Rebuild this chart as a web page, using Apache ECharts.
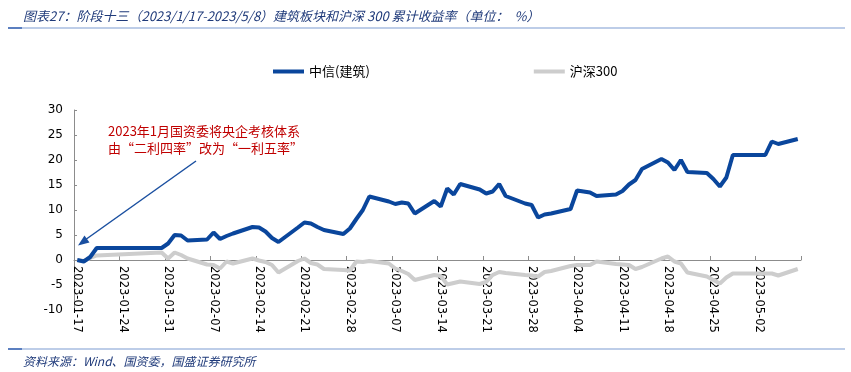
<!DOCTYPE html>
<html>
<head>
<meta charset="utf-8">
<script src="https://cdn.jsdelivr.net/npm/echarts@6/dist/echarts.min.js"></script>
<style>
html,body{margin:0;padding:0;background:#fff;}
#chart{width:851px;height:372px;}
</style>
</head>
<body>
<div id="chart"></div>
<script>
// ---- data ----
var tradeDates = [
  '2023-01-17','2023-01-18','2023-01-19','2023-01-20','2023-01-30','2023-01-31',
  '2023-02-01','2023-02-02','2023-02-03','2023-02-06','2023-02-07','2023-02-08','2023-02-09','2023-02-10',
  '2023-02-13','2023-02-14','2023-02-15','2023-02-16','2023-02-17','2023-02-20','2023-02-21','2023-02-22',
  '2023-02-23','2023-02-24','2023-02-27','2023-02-28',
  '2023-03-01','2023-03-02','2023-03-03','2023-03-06','2023-03-07','2023-03-08','2023-03-09','2023-03-10',
  '2023-03-13','2023-03-14','2023-03-15','2023-03-16','2023-03-17','2023-03-20','2023-03-21','2023-03-22',
  '2023-03-23','2023-03-24','2023-03-27','2023-03-28','2023-03-29','2023-03-30','2023-03-31',
  '2023-04-03','2023-04-04','2023-04-06','2023-04-07','2023-04-10','2023-04-11','2023-04-12','2023-04-13',
  '2023-04-14','2023-04-17','2023-04-18','2023-04-19','2023-04-20','2023-04-21','2023-04-24','2023-04-25',
  '2023-04-26','2023-04-27','2023-04-28','2023-05-03','2023-05-04','2023-05-05','2023-05-08'
];
var citicBuild = [
  0.0,-0.3,0.6,2.4,2.4,3.3,
  5.0,4.9,3.9,4.1,5.5,4.2,4.8,5.3,
  6.6,6.5,5.7,4.4,3.6,6.5,7.5,7.3,
  6.6,6.0,5.2,6.3,
  8.2,10.0,12.7,11.7,11.2,11.5,11.3,9.3,
  11.8,10.7,14.3,13.1,15.2,14.1,13.3,13.7,
  15.2,12.8,11.3,11.0,8.5,9.1,9.3,
  10.2,13.9,13.5,12.8,13.1,13.8,15.1,16.0,
  18.2,20.2,19.5,18.0,20.0,17.6,17.4,16.2,
  14.7,16.5,21.0,21.0,23.7,23.2,24.2
];
var hs300 = [
  0.0,-0.2,0.4,0.9,1.5,0.3,
  1.5,1.0,0.3,-0.9,-1.0,-1.7,-0.3,-0.7,
  0.3,-0.1,-0.4,-1.0,-2.5,-0.2,0.3,-0.6,
  -0.9,-1.8,-2.0,-2.1,
  -0.3,-0.4,-0.2,-0.7,-1.7,-2.2,-2.8,-4.0,
  -3.0,-3.2,-4.9,-4.6,-4.3,-4.8,-4.4,-3.0,
  -2.4,-2.6,-3.0,-3.1,-3.3,-2.4,-2.2,
  -1.2,-1.0,-1.0,-0.3,-0.8,-0.9,-1.0,-1.8,
  -1.4,0.3,0.7,-0.3,-0.7,-2.5,-3.3,-4.0,
  -4.7,-3.5,-2.7,-2.7,-2.7,-3.1,-1.8
];
var seriesNames = ['中信(建筑)', '沪深300'];
var axisStart = '2023-01-17', axisEnd = '2023-05-08';
var yTicks = {min: -10, max: 30, interval: 5};

// ---- build calendar-day category axis ----
function fmt(d){
  var m = d.getUTCMonth()+1, day = d.getUTCDate();
  return d.getUTCFullYear()+'-'+(m<10?'0':'')+m+'-'+(day<10?'0':'')+day;
}
var days = [];
var cur = new Date(axisStart+'T00:00:00Z'), end = new Date(axisEnd+'T00:00:00Z');
while (cur <= end) { days.push(fmt(cur)); cur = new Date(cur.getTime()+86400000); }
function align(vals){
  var map = {};
  tradeDates.forEach(function(d,i){ map[d] = vals[i]; });
  return days.map(function(d){ return (d in map) ? map[d] : null; });
}

var W = 851, H = 372;
var grid = {left: 74, right: 50, top: 110, bottom: 62};
var gridH = H - grid.top - grid.bottom;
// place the category axis on the zero line of the value axis
var zeroOffset = -gridH * (0 - yTicks.min) / (yTicks.max - yTicks.min);

var chart = echarts.init(document.getElementById('chart'));
var cjk = '"Noto Sans CJK SC", "Noto Sans", sans-serif';
chart.setOption({
  animation: false,
  backgroundColor: '#fff',
  title: [{
    text: '图表27：阶段十三（2023/1/17-2023/5/8）建筑板块和沪深 300 累计收益率（单位：  %）',
    left: 18, top: 5,
    textStyle: {fontSize: 13, fontWeight: 'normal', fontStyle: 'italic', color: '#1F3A7A', fontFamily: cjk}
  }, {
    text: '资料来源：Wind、国资委，国盛证券研究所',
    left: 18, top: 350,
    textStyle: {fontSize: 12, fontWeight: 'normal', fontStyle: 'italic', color: '#1F3A7A', fontFamily: cjk}
  }],
  legend: {
    left: 268, top: 60,
    itemWidth: 31, itemHeight: 4, itemGap: 164,
    icon: 'rect',
    textStyle: {fontSize: 13, color: '#000', fontFamily: cjk},
    data: seriesNames
  },
  grid: {left: grid.left, right: grid.right, top: grid.top, bottom: grid.bottom, containLabel: false, outerBoundsMode: 'none'},
  xAxis: {
    type: 'category',
    data: days,
    boundaryGap: true,
    offset: zeroOffset,
    axisLine: {onZero: false, lineStyle: {color: '#8C8C8C', width: 1}},
    axisTick: {show: true, inside: true, length: 4, interval: 6, lineStyle: {color: '#8C8C8C'}},
    axisLabel: {interval: 6, rotate: -90, margin: 6, fontSize: 11.5, color: '#000', fontFamily: '"DejaVu Sans", sans-serif'},
    splitLine: {show: false}
  },
  yAxis: {
    type: 'value',
    min: yTicks.min, max: yTicks.max, interval: yTicks.interval,
    axisLine: {show: true, lineStyle: {color: '#8C8C8C', width: 1}},
    axisTick: {show: true, inside: true, length: 3, lineStyle: {color: '#8C8C8C'}},
    axisLabel: {fontSize: 12, color: '#000', margin: 11, fontFamily: '"DejaVu Sans", sans-serif'},
    splitLine: {show: false}
  },
  series: [{
    name: seriesNames[0], type: 'line', data: align(citicBuild),
    connectNulls: true, symbol: 'none', z: 4,
    lineStyle: {width: 4, color: '#0A469C'}, itemStyle: {color: '#0A469C'}
  }, {
    name: seriesNames[1], type: 'line', data: align(hs300),
    connectNulls: true, symbol: 'none', z: 3,
    lineStyle: {width: 4, color: '#CDCDCD'}, itemStyle: {color: '#CDCDCD'}
  }],
  graphic: [
    {type: 'line', shape: {x1: 8, y1: 28, x2: 845, y2: 28}, style: {stroke: '#A7BCE0', lineWidth: 1.5}},
    {type: 'line', shape: {x1: 8, y1: 28, x2: 22, y2: 28}, style: {stroke: '#5B7FC0', lineWidth: 2}},
    {type: 'line', shape: {x1: 8, y1: 349, x2: 845, y2: 349}, style: {stroke: '#A7BCE0', lineWidth: 1.5}},
    {type: 'line', shape: {x1: 8, y1: 349, x2: 22, y2: 349}, style: {stroke: '#5B7FC0', lineWidth: 2}},
    {type: 'text', left: 108, top: 123, style: {
      text: '2023年1月国资委将央企考核体系\n由“二利四率”改为“一利五率”',
      fill: '#C00000', fontSize: 13, lineHeight: 17, fontFamily: cjk}},
    {type: 'line', shape: {x1: 196, y1: 161, x2: 85, y2: 240}, style: {stroke: '#1A4FA0', lineWidth: 1.5}},
    {type: 'polygon', shape: {points: [[78, 245.5], [84.5, 235.5], [89.5, 242.5]]}, style: {fill: '#1A4FA0'}}
  ]
});
</script>
</body>
</html>
